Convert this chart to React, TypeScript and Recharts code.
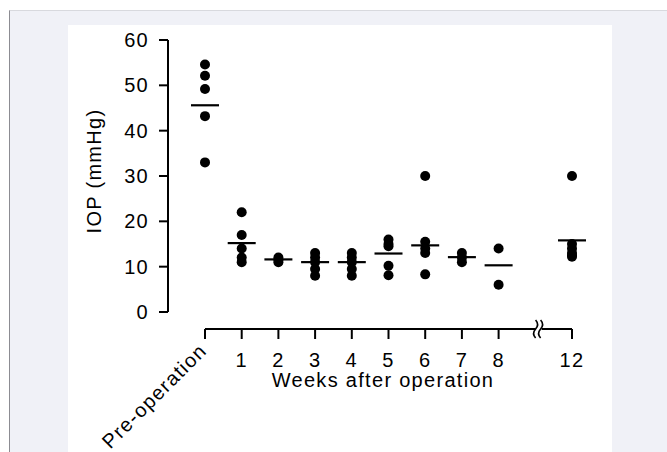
import React from 'react';
import { ScatterChart, Scatter, XAxis, YAxis, ReferenceLine, ReferenceDot } from 'recharts';

// time points (12 weeks sits after an axis break)
const groupLabels = ['Pre-operation', '1', '2', '3', '4', '5', '6', '7', '8', '12'];
const groupPositions = [0, 1, 2, 3, 4, 5, 6, 7, 8, 10];

// individual IOP readings per time point (mmHg)
const iopValues = [
  [54.6, 52.1, 49.2, 43.2, 33],
  [22, 17, 14, 12, 11],
  [12, 11.5, 11],
  [13, 12, 11, 9.5, 8],
  [13, 12, 11, 9.5, 8],
  [16, 15, 14.5, 10.2, 8.1],
  [30, 15.5, 14, 13, 8.3],
  [13, 12, 11],
  [14, 6],
  [30, 15, 14, 13, 12.5, 12.2],
];

// mean bars
const meanValues = [45.6, 15.2, 11.6, 11, 11, 12.9, 14.7, 12.1, 10.3, 15.8];

const yTicks = [0, 10, 20, 30, 40, 50, 60];
const breakAt = 9.09;
// x axis sits a little below zero (offset axes)
const xAxisLevel = -3.75;

const points = iopValues.flatMap((vals, i) => vals.map(v => ({ x: groupPositions[i], y: v })));
const means = meanValues.map((v, i) => ({ x: groupPositions[i], y: v }));

function Dot(props: any) {
  return <circle cx={props.cx} cy={props.cy} r={5} fill="#000" />;
}

function MeanBar(props: any) {
  const { cx, cy } = props;
  return <line x1={cx - 14} x2={cx + 14} y1={cy} y2={cy} stroke="#000" strokeWidth={2.2} />;
}

function WeekTick(props: any) {
  const { x, y, payload } = props;
  const label = groupLabels[groupPositions.indexOf(payload.value)];
  const pre = payload.value === 0;
  return (
    <g>
      <line x1={x} x2={x} y1={y + 17} y2={y + 27} stroke="#000" strokeWidth={2} />
      {pre ? (
        <text x={x + 3} y={y + 40} textAnchor="end" fontSize={20} fill="#000" transform={`rotate(-45 ${x + 3} ${y + 40})`}>
          {label}
        </text>
      ) : (
        <text x={x} y={y + 55} textAnchor="middle" fontSize={20} fill="#000">
          {label}
        </text>
      )}
    </g>
  );
}

function AxisBreak(props: any) {
  const { cx, cy } = props;
  return (
    <g>
      <rect x={cx - 3} y={cy - 2} width={6} height={4} fill="#fff" />
      <path d={`M${cx - 3},${cy - 9} q4,4.5 0,9 q-4,4.5 0,9`} stroke="#000" strokeWidth={1.6} fill="none" />
      <path d={`M${cx + 2},${cy - 9} q4,4.5 0,9 q-4,4.5 0,9`} stroke="#000" strokeWidth={1.6} fill="none" />
    </g>
  );
}

export default function App() {
  return (
    <div
      style={{
        position: 'fixed',
        left: 9,
        top: 10,
        right: 0,
        bottom: 0,
        background: '#f0f1f7',
        borderTop: '1px solid #d8d9de',
        borderLeft: '1px solid #8c8c92',
      }}
    >
      <div
        style={{
          position: 'absolute',
          left: 58,
          top: 14,
          width: 544,
          height: 427,
          background: '#fff',
          fontFamily: '"Liberation Sans", Arial, sans-serif',
          letterSpacing: '1.3px',
        }}
      >
        <ScatterChart width={544} height={427} margin={{ top: 15, right: 40, left: 0, bottom: 0 }}>
          <XAxis
            type="number"
            dataKey="x"
            domain={[0, 10]}
            ticks={groupPositions}
            padding={{ left: 37, right: 0 }}
            axisLine={false}
            tickLine={false}
            tickSize={0}
            tickMargin={0}
            height={140}
            interval={0}
            tick={<WeekTick />}
            label={{
              content: (p: any) => {
                const vb = p.viewBox;
                return (
                  <text x={vb.x + vb.width / 2 + 13} y={vb.y + 75} textAnchor="middle" fontSize={20} fill="#000">
                    Weeks after operation
                  </text>
                );
              },
            }}
          />
          <YAxis
            type="number"
            dataKey="y"
            domain={[0, 60]}
            ticks={yTicks}
            width={100}
            axisLine={{ stroke: '#000', strokeWidth: 2 }}
            tickLine={{ stroke: '#000', strokeWidth: 2 }}
            tickSize={9}
            tickMargin={10}
            tick={{ fill: '#000', fontSize: 20 }}
            label={{
              content: (p: any) => {
                const vb = p.viewBox;
                const cy = vb.y + vb.height / 2 - 5;
                return (
                  <text x={33} y={cy} textAnchor="middle" fontSize={20} fill="#000" transform={`rotate(-90 33 ${cy})`}>
                    IOP (mmHg)
                  </text>
                );
              },
            }}
          />
          <ReferenceLine
            segment={[{ x: 0, y: xAxisLevel }, { x: 10, y: xAxisLevel }]}
            stroke="#000"
            strokeWidth={2}
            ifOverflow="visible"
          />
          <ReferenceDot x={breakAt} y={xAxisLevel} ifOverflow="visible" shape={<AxisBreak />} />
          <Scatter data={points} shape={<Dot />} isAnimationActive={false} />
          <Scatter data={means} shape={<MeanBar />} isAnimationActive={false} />
        </ScatterChart>
      </div>
    </div>
  );
}
